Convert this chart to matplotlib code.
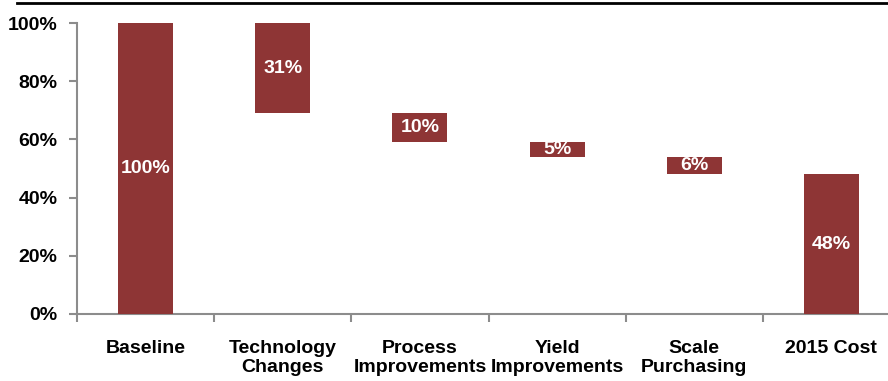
import numpy as np
import matplotlib
matplotlib.use("Agg")
import matplotlib.pyplot as plt
from matplotlib.lines import Line2D

# Waterfall data (percent of baseline cost)
categories = ["Baseline", "Technology\nChanges", "Process\nImprovements",
              "Yield\nImprovements", "Scale\nPurchasing", "2015 Cost"]
baseline = 100
reductions = [31, 10, 5, 6]
final_cost = 48
labels = ["100%", "31%", "10%", "5%", "6%", "48%"]

bar_color = "#8E3535"
axis_grey = "#8C8C8C"

plt.rcParams["font.family"] = ["Liberation Sans", "DejaVu Sans"]
plt.rcParams["font.weight"] = "bold"


def waterfall_segments():
    # bottoms and heights for each bar
    bottoms = [0]
    heights = [baseline]
    level = baseline
    for r in reductions:
        level -= r
        bottoms.append(level)
        heights.append(r)
    bottoms.append(0)
    heights.append(final_cost)
    return np.array(bottoms), np.array(heights)


def main():
    fig = plt.figure(figsize=(8.88, 3.81), dpi=100)
    ax = fig.add_axes([77 / 888, 67 / 381, 823 / 888, 291 / 381])

    x = np.arange(len(categories))
    bottoms, heights = waterfall_segments()
    ax.bar(x, heights, bottom=bottoms, width=0.4, color=bar_color, zorder=3)

    for xi, b, h, lab in zip(x, bottoms, heights, labels):
        ax.text(xi, b + h / 2, lab, ha="center", va="center", color="white",
                fontsize=14, fontweight="bold", zorder=4)

    ax.set_xlim(-0.5, len(categories) - 0.5)
    ax.set_ylim(0, 100)
    ax.set_yticks(np.arange(0, 101, 20))
    ax.set_yticklabels([f"{v}%" for v in range(0, 101, 20)])

    ax.set_xticks(x)
    ax.set_xticklabels(categories)
    for t in ax.get_xticklabels():
        t.set_linespacing(1.1)
    ax.set_xticks(np.arange(-0.5, len(categories), 1), minor=True)
    ax.tick_params(axis="x", which="major", length=0, pad=19, labelsize=14)
    ax.tick_params(axis="x", which="minor", length=6, width=1.5, color=axis_grey)
    ax.tick_params(axis="y", length=6, width=1.5, color=axis_grey, pad=8,
                   labelsize=14)

    for side in ["top", "right"]:
        ax.spines[side].set_visible(False)
    for side in ["left", "bottom"]:
        ax.spines[side].set_color(axis_grey)
        ax.spines[side].set_linewidth(1.5)

    # black rule along the top of the slide
    fig.add_artist(Line2D([17 / 888, 1.0], [1 - 3 / 381, 1 - 3 / 381],
                          color="black", linewidth=2))

    fig.savefig("out.png", dpi=100)


if __name__ == "__main__":
    main()
